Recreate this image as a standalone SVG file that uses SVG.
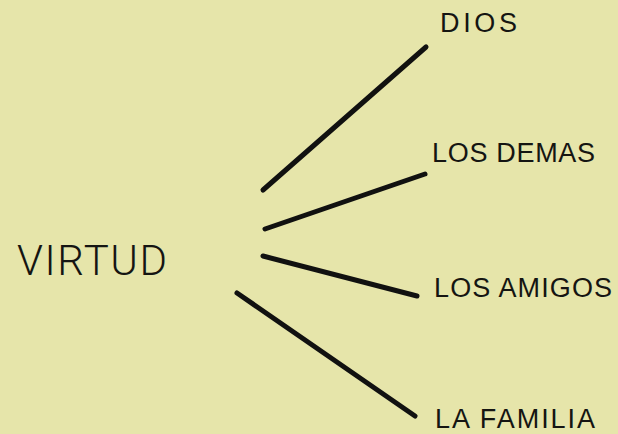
<svg xmlns="http://www.w3.org/2000/svg" width="618" height="434" viewBox="0 0 618 434">
<style>
.lbl{font-family:"Liberation Sans","DejaVu Sans",sans-serif;font-size:27px;fill:#151512;}
.big{font-family:"Roboto","Liberation Sans",sans-serif;font-weight:300;font-size:42px;fill:#151512;}
.ln{stroke:#111110;stroke-width:5;stroke-linecap:round;fill:none;}
</style>
<rect width="618" height="434" fill="#e6e5aa"/>
<g id="virtud"><text class="big" x="17" y="275" textLength="150" lengthAdjust="spacing">VIRTUD</text></g>
<g id="dios"><text class="lbl" x="440" y="32" textLength="77" lengthAdjust="spacing">DIOS</text></g>
<g id="los-demas"><text class="lbl" x="432" y="162" textLength="163" lengthAdjust="spacing">LOS DEMAS</text></g>
<g id="los-amigos"><text class="lbl" x="434" y="297" textLength="178" lengthAdjust="spacing">LOS AMIGOS</text></g>
<g id="la-familia"><text class="lbl" x="435" y="428" textLength="160" lengthAdjust="spacing">LA FAMILIA</text></g>
<g id="connectors">
<line class="ln" x1="263" y1="190" x2="426" y2="47"/>
<line class="ln" x1="265" y1="229" x2="425" y2="174"/>
<line class="ln" x1="263" y1="256" x2="417" y2="296"/>
<line class="ln" x1="237" y1="293" x2="415" y2="416"/>
</g>
</svg>
